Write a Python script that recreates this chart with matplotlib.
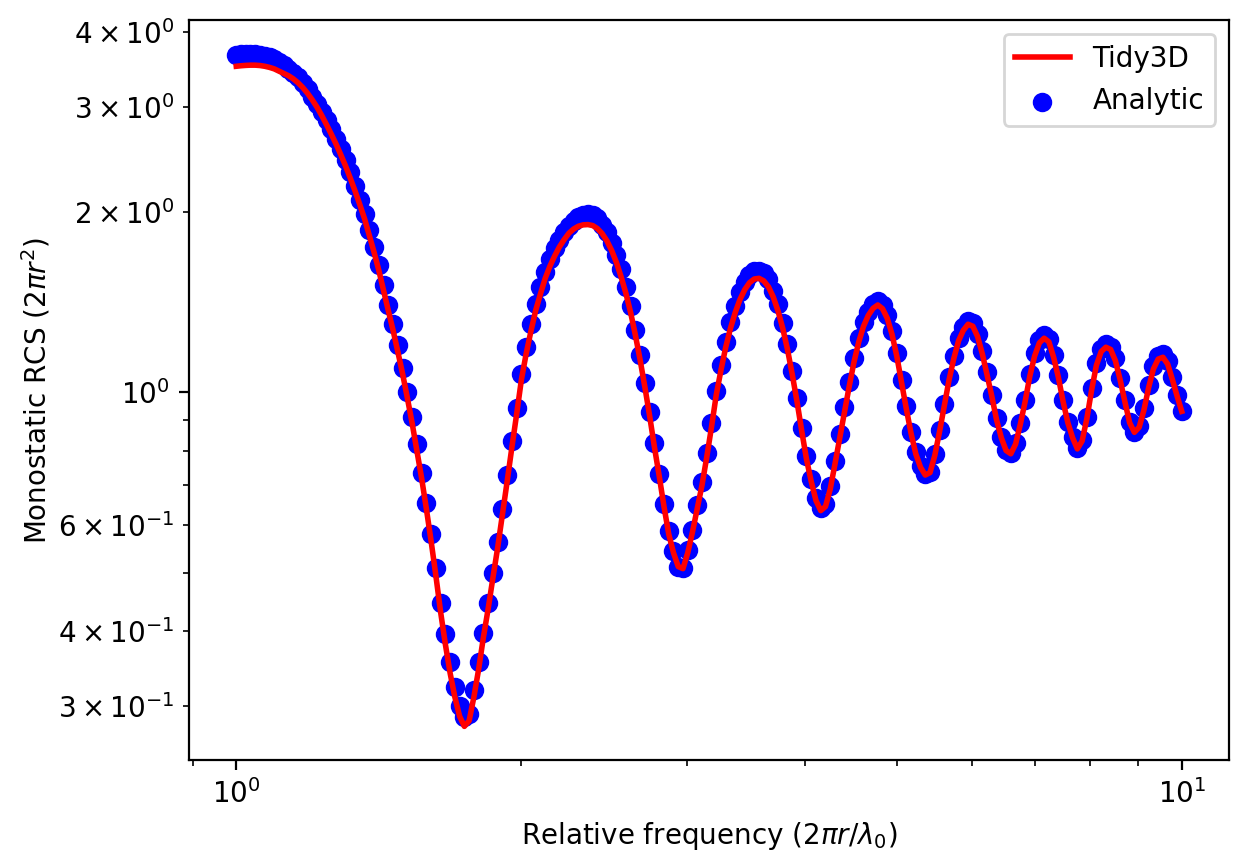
import numpy as np
import matplotlib
matplotlib.use("Agg")
import matplotlib.pyplot as plt
from matplotlib.ticker import LogFormatterSciNotation

# --- data ---
# relative frequency 2*pi*r/lambda0 (log-spaced samples)
rel_freq = [
    1.0000, 1.0116, 1.0234, 1.0353, 1.0474, 1.0596, 1.0719, 1.0844, 1.0970, 1.1097,
    1.1226, 1.1357, 1.1489, 1.1623, 1.1758, 1.1895, 1.2034, 1.2174, 1.2315, 1.2459,
    1.2604, 1.2750, 1.2899, 1.3049, 1.3201, 1.3355, 1.3510, 1.3668, 1.3827, 1.3988,
    1.4150, 1.4315, 1.4482, 1.4651, 1.4821, 1.4994, 1.5168, 1.5345, 1.5524, 1.5704,
    1.5887, 1.6072, 1.6259, 1.6449, 1.6640, 1.6834, 1.7030, 1.7228, 1.7429, 1.7632,
    1.7837, 1.8045, 1.8255, 1.8467, 1.8682, 1.8899, 1.9119, 1.9342, 1.9567, 1.9795,
    2.0025, 2.0258, 2.0494, 2.0732, 2.0974, 2.1218, 2.1465, 2.1714, 2.1967, 2.2223,
    2.2483, 2.2744, 2.3009, 2.3277, 2.3548, 2.3822, 2.4099, 2.4379, 2.4663, 2.4950,
    2.5242, 2.5536, 2.5833, 2.6134, 2.6438, 2.6746, 2.7057, 2.7372, 2.7690, 2.8013,
    2.8340, 2.8670, 2.9003, 2.9341, 2.9682, 3.0028, 3.0377, 3.0731, 3.1088, 3.1450,
    3.1814, 3.2184, 3.2559, 3.2938, 3.3321, 3.3709, 3.4101, 3.4498, 3.4900, 3.5306,
    3.5717, 3.6133, 3.6553, 3.6978, 3.7409, 3.7844, 3.8284, 3.8730, 3.9181, 3.9637,
    4.0097, 4.0564, 4.1036, 4.1514, 4.1997, 4.2486, 4.2980, 4.3480, 4.3986, 4.4498,
    4.5019, 4.5543, 4.6073, 4.6609, 4.7152, 4.7700, 4.8255, 4.8817, 4.9385, 4.9960,
    5.0539, 5.1127, 5.1722, 5.2324, 5.2933, 5.3549, 5.4172, 5.4803, 5.5440, 5.6086,
    5.6744, 5.7404, 5.8072, 5.8748, 5.9432, 6.0124, 6.0823, 6.1531, 6.2247, 6.2972,
    6.3703, 6.4444, 6.5194, 6.5953, 6.6721, 6.7497, 6.8283, 6.9077, 6.9881, 7.0695,
    7.1523, 7.2355, 7.3197, 7.4049, 7.4911, 7.5783, 7.6665, 7.7557, 7.8459, 7.9372,
    8.0297, 8.1231, 8.2177, 8.3133, 8.4101, 8.5079, 8.6069, 8.7071, 8.8084, 8.9109,
    9.0157, 9.1206, 9.2267, 9.3341, 9.4427, 9.5526, 9.6638, 9.7762, 9.8900, 10.000,
]

# analytic monostatic RCS (blue dots)
rcs_analytic = [
    3.66, 3.67, 3.68, 3.68, 3.675, 3.665, 3.65, 3.63, 3.60, 3.565,
    3.52, 3.47, 3.42, 3.36, 3.29, 3.21, 3.12, 3.03, 2.94, 2.85,
    2.75, 2.65, 2.55, 2.44, 2.33, 2.21, 2.10, 1.99, 1.87, 1.75,
    1.63, 1.51, 1.40, 1.30, 1.20, 1.10, 1.00, 0.91, 0.82, 0.735,
    0.655, 0.58, 0.51, 0.445, 0.395, 0.355, 0.322, 0.300, 0.287, 0.290,
    0.318, 0.355, 0.397, 0.445, 0.50, 0.562, 0.64, 0.727, 0.83, 0.943,
    1.075, 1.19, 1.30, 1.405, 1.50, 1.59, 1.67, 1.74, 1.80, 1.855,
    1.90, 1.935, 1.96, 1.977, 1.984, 1.976, 1.953, 1.906, 1.854, 1.778,
    1.697, 1.605, 1.50, 1.392, 1.27, 1.154, 1.039, 0.926, 0.822, 0.732,
    0.651, 0.586, 0.543, 0.512, 0.51, 0.545, 0.59, 0.648, 0.71, 0.792,
    0.89, 1.007, 1.11, 1.215, 1.31, 1.395, 1.47, 1.53, 1.57, 1.593,
    1.598, 1.582, 1.546, 1.48, 1.403, 1.306, 1.204, 1.088, 0.98, 0.871,
    0.782, 0.717, 0.667, 0.641, 0.651, 0.697, 0.768, 0.853, 0.944, 1.04,
    1.142, 1.233, 1.309, 1.365, 1.403, 1.421, 1.40, 1.346, 1.265, 1.162,
    1.05, 0.949, 0.859, 0.794, 0.753, 0.73, 0.738, 0.789, 0.866, 0.958,
    1.06, 1.152, 1.234, 1.287, 1.316, 1.305, 1.254, 1.172, 1.08, 0.992,
    0.905, 0.843, 0.802, 0.792, 0.823, 0.89, 0.972, 1.075, 1.162, 1.224,
    1.247, 1.229, 1.156, 1.069, 0.971, 0.894, 0.843, 0.808, 0.833, 0.911,
    1.018, 1.12, 1.183, 1.204, 1.193, 1.14, 1.058, 0.971, 0.894, 0.86,
    0.878, 0.941, 1.028, 1.106, 1.151, 1.16, 1.128, 1.06, 0.991, 0.933,
]

# Tidy3D simulated RCS (red line)
rcs_tidy3d = [
    3.505, 3.512, 3.517, 3.52, 3.52, 3.515, 3.505, 3.49, 3.47, 3.44,
    3.41, 3.38, 3.34, 3.29, 3.23, 3.16, 3.08, 2.995, 2.90, 2.80,
    2.70, 2.60, 2.495, 2.39, 2.28, 2.17, 2.06, 1.95, 1.83, 1.715,
    1.60, 1.48, 1.37, 1.27, 1.17, 1.075, 0.98, 0.89, 0.80, 0.72,
    0.64, 0.565, 0.495, 0.43, 0.38, 0.34, 0.31, 0.288, 0.277, 0.283,
    0.31, 0.345, 0.39, 0.435, 0.49, 0.55, 0.625, 0.71, 0.81, 0.92,
    1.05, 1.16, 1.265, 1.37, 1.46, 1.55, 1.625, 1.69, 1.75, 1.80,
    1.845, 1.875, 1.895, 1.905, 1.907, 1.90, 1.878, 1.842, 1.791, 1.726,
    1.648, 1.558, 1.463, 1.358, 1.245, 1.131, 1.019, 0.912, 0.81, 0.725,
    0.645, 0.58, 0.54, 0.512, 0.508, 0.54, 0.585, 0.64, 0.70, 0.78,
    0.875, 0.99, 1.09, 1.19, 1.28, 1.36, 1.43, 1.485, 1.525, 1.547,
    1.551, 1.536, 1.501, 1.444, 1.369, 1.28, 1.18, 1.072, 0.966, 0.862,
    0.774, 0.71, 0.66, 0.635, 0.645, 0.69, 0.76, 0.84, 0.93, 1.025,
    1.125, 1.215, 1.29, 1.345, 1.382, 1.40, 1.38, 1.33, 1.25, 1.15,
    1.04, 0.94, 0.855, 0.79, 0.75, 0.728, 0.735, 0.785, 0.86, 0.95,
    1.05, 1.14, 1.22, 1.27, 1.30, 1.29, 1.24, 1.16, 1.07, 0.985,
    0.90, 0.84, 0.80, 0.79, 0.82, 0.885, 0.965, 1.065, 1.15, 1.21,
    1.232, 1.215, 1.145, 1.06, 0.965, 0.89, 0.84, 0.805, 0.83, 0.905,
    1.01, 1.11, 1.17, 1.19, 1.18, 1.13, 1.05, 0.965, 0.89, 0.858,
    0.875, 0.935, 1.02, 1.095, 1.137, 1.145, 1.115, 1.05, 0.985, 0.93,
]

# --- plot ---
fig, ax = plt.subplots(figsize=(6.245, 4.34), dpi=200)
fig.subplots_adjust(left=0.1513, right=0.984, top=0.977, bottom=0.1244)

ax.plot(rel_freq, rcs_tidy3d, color="red", linewidth=2, label="Tidy3D")
ax.scatter(rel_freq, rcs_analytic, color="blue", label="Analytic")

ax.set_xscale("log")
ax.set_yscale("log")
# label the 2,3,4,6 minor ticks on the y axis like the original
ax.yaxis.set_minor_formatter(
    LogFormatterSciNotation(labelOnlyBase=False, minor_thresholds=(2, 0.4)))

ax.set_xlabel(r"Relative frequency ($2\pi r/\lambda_0$)")
ax.set_ylabel(r"Monostatic RCS ($2\pi r^2$)", labelpad=2)
ax.legend()

fig.savefig("out.png")
